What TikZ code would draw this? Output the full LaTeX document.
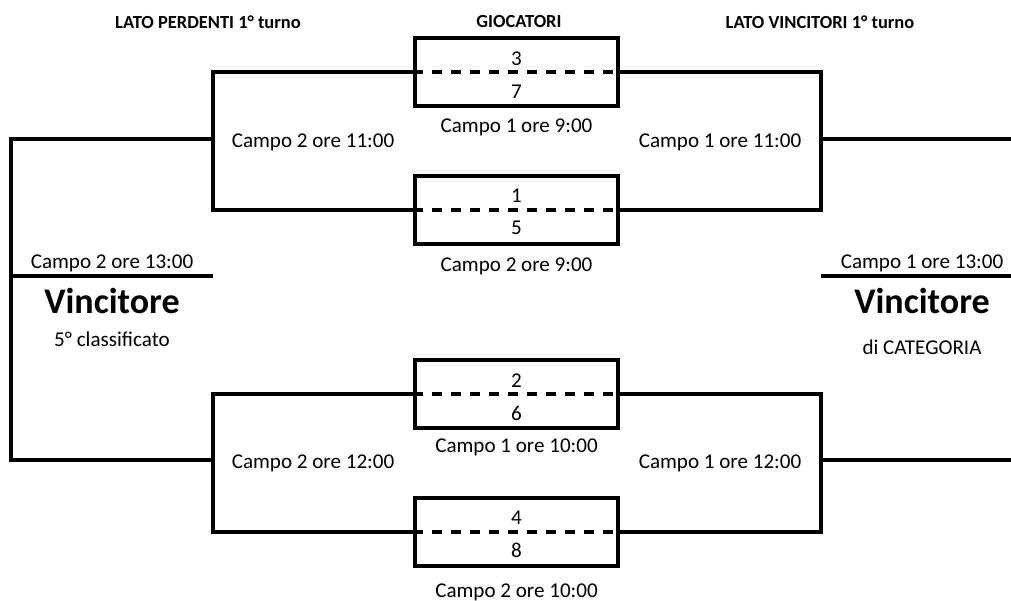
\documentclass[tikz,border=0pt]{standalone}
\usepackage{fontspec}
\setmainfont{Carlito}
\usetikzlibrary{positioning}

\begin{document}
\begin{tikzpicture}[x=0.02cm,y=-0.02cm,
        linea/.style={line width=2.2pt},
        tratteggio/.style={line width=2.2pt,dash pattern=on 0.2cm off 0.18cm},
        partita/.style={draw,line width=2.2pt,minimum width=4.06cm,minimum height=1.36cm,inner sep=0pt},
        testo/.style={font=\fontsize{12}{14}\selectfont,inner sep=0pt},
        titolo/.style={font=\fontsize{10.5}{12}\selectfont\bfseries,inner sep=0pt},
        vinto/.style={font=\fontsize{20.5}{24}\selectfont\bfseries,inner sep=0pt}]
        \useasboundingbox (0,0) rectangle (1011,601);

        % intestazioni
        \node[titolo] (hperd) at (208,22) {LATO PERDENTI 1° turno};
        \node[titolo] (hgioc) at (519,22) {GIOCATORI};
        \node[titolo] (hvinc) at (820,22) {LATO VINCITORI 1° turno};

        % giocatori
        \node[partita] (g1) at (516.5,72) {};
        \node[partita] (g2) at (516.5,210) {};
        \node[partita] (g3) at (516.5,394) {};
        \node[partita] (g4) at (516.5,532) {};
        \draw[tratteggio] (g1.west) -- (g1.east);
        \draw[tratteggio] (g2.west) -- (g2.east);
        \draw[tratteggio] (g3.west) -- (g3.east);
        \draw[tratteggio] (g4.west) -- (g4.east);

        \node[testo] (n3) at (516.5,59) {3};
        \node[testo] (n7) at (516.5,92) {7};
        \node[testo] (n1) at (516.5,196) {1};
        \node[testo] (n5) at (516.5,228) {5};
        \node[testo] (n2) at (516.5,381) {2};
        \node[testo] (n6) at (516.5,413) {6};
        \node[testo] (n4) at (516.5,518) {4};
        \node[testo] (n8) at (516.5,550) {8};

        \node[testo] (c1) at (516.5,127) {Campo 1 ore 9:00};
        \node[testo] (c2) at (516.5,266) {Campo 2 ore 9:00};
        \node[testo] (c3) at (516.5,447) {Campo 1 ore 10:00};
        \node[testo] (c4) at (516.5,592) {Campo 2 ore 10:00};

        % tabellone
        \coordinate (sx1) at (213,139);
        \coordinate (sx2) at (213,460);
        \coordinate (dx1) at (821,139);
        \coordinate (dx2) at (821,460);
        \coordinate (bordo) at (11,300);
        \coordinate (fine1) at (1011,139);
        \coordinate (fine2) at (1011,460);

        \draw[linea] (g1.west) -| (sx1) |- (g2.west);
        \draw[linea] (g3.west) -| (sx2) |- (g4.west);
        \draw[linea] (g1.east) -| (dx1) |- (g2.east);
        \draw[linea] (g3.east) -| (dx2) |- (g4.east);
        \draw[linea] (sx1) -| (bordo) |- (sx2);
        \draw[linea] (dx1) -- (fine1);
        \draw[linea] (dx2) -- (fine2);

        \node[testo] (t11a) at (313,142) {Campo 2 ore 11:00};
        \node[testo] (t11b) at (720,142) {Campo 1 ore 11:00};
        \node[testo] (t12a) at (313,463) {Campo 2 ore 12:00};
        \node[testo] (t12b) at (720,463) {Campo 1 ore 12:00};

        % finali
        \coordinate (f5a) at (11,276);
        \coordinate (f5b) at (213,276);
        \coordinate (f1a) at (821,276);
        \coordinate (f1b) at (1011,276);
        \draw[linea] (f5a) -- (f5b);
        \draw[linea] (f1a) -- (f1b);

        \node[testo] (t13a) at (112,263) {Campo 2 ore 13:00};
        \node[vinto] (v5) at (112,301) {Vincitore};
        \node[testo] (q5) at (112,339) {5° classificato};
        \node[testo] (t13b) at (922,263) {Campo 1 ore 13:00};
        \node[vinto] (v1) at (922,301) {Vincitore};
        \node[testo] (q1) at (922,347) {di CATEGORIA};
\end{tikzpicture}
\end{document}
